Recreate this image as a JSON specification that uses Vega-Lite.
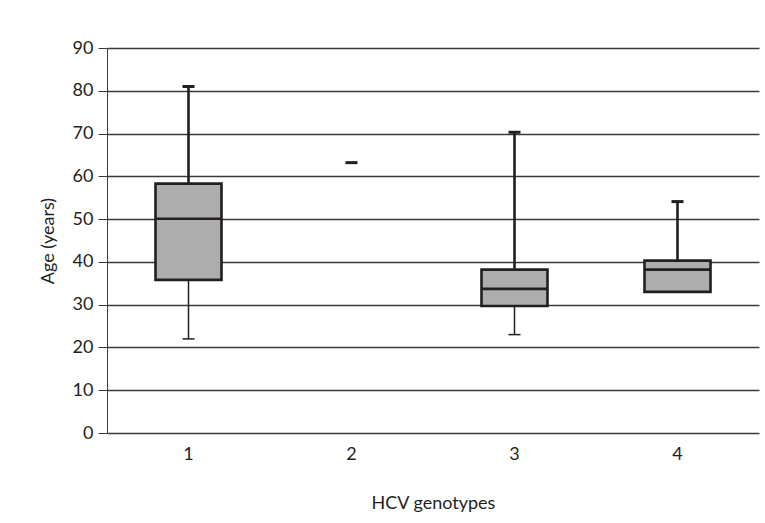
{
  "$schema": "https://vega.github.io/schema/vega-lite/v6.json",
  "autosize": {"type": "none"},
  "padding": {"left": 107, "top": 48, "right": 6, "bottom": 90},
  "width": 652,
  "height": 385,
  "background": "white",
  "config": {
    "font": "Lato",
    "view": {"stroke": null},
    "axis": {"labelFont": "Lato", "titleFont": "Lato", "labelFontSize": 18, "titleFontSize": 18, "labelColor": "#231f20", "titleColor": "#231f20", "titleFontWeight": "normal"}
  },
  "data": {
    "values": [
      {"genotype": "1", "min": 22, "q1": 35.8, "median": 50.1, "q3": 58.3, "max": 81},
      {"genotype": "2", "min": null, "q1": null, "median": null, "q3": null, "max": 63.2},
      {"genotype": "3", "min": 23, "q1": 29.7, "median": 33.7, "q3": 38.2, "max": 70.3},
      {"genotype": "4", "min": null, "q1": 33.0, "median": 38.2, "q3": 40.3, "max": 54.1}
    ]
  },
  "encoding": {
    "x": {
      "field": "genotype", "type": "nominal",
      "scale": {"paddingInner": 0, "paddingOuter": 0},
      "axis": {"title": "HCV genotypes", "labelAngle": 0, "ticks": false, "domain": false, "labelPadding": 12, "titlePadding": 31}
    }
  },
  "layer": [
    {
      "mark": {"type": "rule", "color": "#231f20", "strokeWidth": 1.5},
      "encoding": {
        "y": {"field": "min", "type": "quantitative", "scale": {"domain": [0, 90], "nice": false},
          "axis": {"title": "Age (years)", "values": [0,10,20,30,40,50,60,70,80,90], "grid": true, "gridColor": "#3a3a3a", "gridWidth": 1.3, "domain": true, "domainColor": "#3a3a3a", "domainWidth": 1, "tickColor": "#3a3a3a", "tickSize": 9, "labelPadding": 5, "titlePadding": 15}},
        "y2": {"field": "q1"}
      }
    },
    {
      "mark": {"type": "rule", "color": "#231f20", "strokeWidth": 2.6},
      "encoding": {
        "y": {"field": "q3", "type": "quantitative"},
        "y2": {"field": "max"}
      }
    },
    {
      "mark": {"type": "tick", "color": "#231f20", "opacity": 1, "thickness": 1.5, "size": 12, "orient": "horizontal"},
      "encoding": {"y": {"field": "min", "type": "quantitative"}}
    },
    {
      "mark": {"type": "tick", "color": "#231f20", "opacity": 1, "thickness": 3, "size": 12, "orient": "horizontal"},
      "encoding": {"y": {"field": "max", "type": "quantitative"}}
    },
    {
      "mark": {"type": "bar", "fill": "#adadad", "opacity": 1, "stroke": "#231f20", "strokeWidth": 2.6, "size": 66},
      "encoding": {
        "y": {"field": "q1", "type": "quantitative"},
        "y2": {"field": "q3"}
      }
    },
    {
      "mark": {"type": "tick", "color": "#231f20", "opacity": 1, "thickness": 2.6, "size": 66, "orient": "horizontal"},
      "encoding": {"y": {"field": "median", "type": "quantitative"}}
    }
  ]
}
